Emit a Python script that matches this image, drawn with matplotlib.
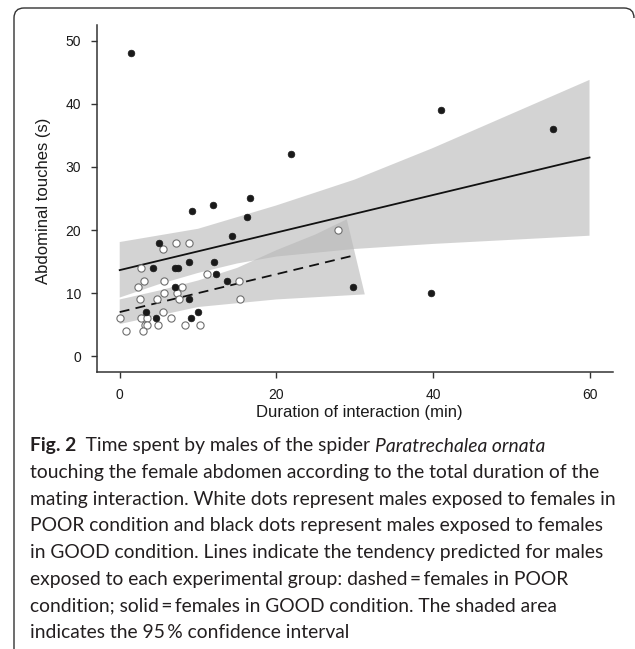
import matplotlib
matplotlib.use("Agg")
import matplotlib.pyplot as plt
from matplotlib.path import Path
from matplotlib.patches import PathPatch
import numpy as np

# ---------------- data ----------------
good_x = [1.4, 21.9, 9.2, 11.9, 16.6, 16.2, 14.3, 5.0, 4.3, 7.0, 7.4, 8.9, 12.0,
          12.3, 13.7, 7.1, 8.9, 3.4, 4.6, 9.1, 10.0, 41.0, 55.3, 29.8, 39.7]
good_y = [48, 32, 23, 24, 25, 22, 19, 18, 14, 14, 14, 15, 15,
          13, 12, 11, 9, 7, 6, 6, 7, 39, 36, 11, 10]

poor_x = [7.2, 8.9, 5.5, 2.7, 3.1, 5.7, 2.4, 8.0, 11.2, 15.2, 5.7, 7.3, 2.6, 4.8,
          7.6, 15.3, 5.5, 0.0, 2.7, 3.5, 6.5, 3.2, 3.5, 4.9, 8.3, 10.2, 0.8, 3.0, 27.9]
poor_y = [18, 18, 17, 14, 12, 12, 11, 11, 13, 12, 10, 10, 9, 9,
          9, 9, 7, 6, 6, 6, 6, 5, 5, 5, 5, 5, 4, 4, 20]

good_fit_x = [0, 60]
good_fit_y = [13.65, 31.5]
poor_fit_x = [0, 30]
poor_fit_y = [7.0, 16.0]

good_upper_x = [0, 10, 20, 30, 40, 60]
good_upper_y = [18.1, 20.2, 23.9, 28.0, 33.0, 43.8]
good_lower_x = [0, 5, 10, 15, 20, 30, 40, 60]
good_lower_y = [9.3, 11.4, 13.2, 14.7, 15.8, 17.0, 17.8, 19.1]

poor_upper_x = [0, 5, 10, 15, 20, 25, 29]
poor_upper_y = [9.0, 10.4, 12.0, 14.0, 16.8, 19.3, 21.7]
poor_lower_x = [0, 10, 20, 31.3]
poor_lower_y = [5.1, 7.8, 9.0, 9.8]

x_ticks = [0, 20, 40, 60]
y_ticks = [0, 10, 20, 30, 40, 50]
x_label = "Duration of interaction (min)"
y_label = "Abdominal touches (s)"

caption_lines = [
    None,  # first line built from runs
    "touching the female abdomen according to the total duration of the",
    "mating interaction. White dots represent males exposed to females in",
    "POOR condition and black dots represent males exposed to females",
    "in GOOD condition. Lines indicate the tendency predicted for males",
    "exposed to each experimental group: dashed\u2009=\u2009females in POOR",
    "condition; solid\u2009=\u2009females in GOOD condition. The shaded area",
    "indicates the 95\u2009% confidence interval",
]
caption_first = [("Fig. 2", "bold", "normal"),
                 ("\u2002Time spent by males of the spider ", "normal", "normal"),
                 ("Paratrechalea ornata", "normal", "italic")]

# ---------------- figure ----------------
W, H = 635, 649
fig = plt.figure(figsize=(W / 100, H / 100), dpi=100)
plt.rcParams['font.family'] = ['Liberation Sans', 'DejaVu Sans']

def fx(px):
    return px / W

def fy(py):
    return 1 - py / H

ax = fig.add_axes([fx(97), fy(372), (613 - 97) / W, (372 - 25) / H])

band_color = '#b7b7b7'
ax.fill(list(good_upper_x) + list(good_lower_x[::-1]),
        list(good_upper_y) + list(good_lower_y[::-1]),
        color=band_color, alpha=0.6, lw=0, zorder=1)
ax.fill(list(poor_upper_x) + list(poor_lower_x[::-1]),
        list(poor_upper_y) + list(poor_lower_y[::-1]),
        color=band_color, alpha=0.6, lw=0, zorder=1)

ax.plot(good_fit_x, good_fit_y, color='#111111', lw=1.3, zorder=2)
ax.plot(poor_fit_x, poor_fit_y, color='#111111', lw=1.3, ls=(0, (5.5, 3.5)), zorder=2)

ax.plot(poor_x, poor_y, 'o', ms=5.2, mfc='white', mec='#6e6e6e', mew=0.8,
        ls='none', zorder=3)
ax.plot(good_x, good_y, 'o', ms=4.8, mfc='#1a1a1a', mec='#1a1a1a', mew=0.5,
        ls='none', zorder=4)

ax.set_xlim(-2.9, 63)
ax.set_ylim(-2.5, 52.5)
ax.set_xticks(x_ticks)
ax.set_yticks(y_ticks)
for s in ['top', 'right']:
    ax.spines[s].set_visible(False)
for s in ['left', 'bottom']:
    ax.spines[s].set_color('#333333')
    ax.spines[s].set_linewidth(1.1)
ax.tick_params(axis='both', colors='#333333', length=4, width=1.0,
               labelsize=10, pad=7.5, labelcolor='#1a1a1a')
ax.set_facecolor('none')

fig.text(fx(44), fy(201), y_label, rotation=90, ha='center', va='center',
         fontsize=12, color='#1a1a1a')
fig.text(fx(359), fy(413), x_label, ha='center', va='center',
         fontsize=12, color='#1a1a1a')

# ---------------- caption ----------------
cap_font = ['Lato', 'DejaVu Sans']
renderer = fig.canvas.get_renderer()
probe = fig.text(0, 0, caption_lines[2], fontsize=12, family=cap_font)
pw = probe.get_window_extent(renderer).width
probe.remove()
cap_size = 12 * (616 - 30) / pw
line_y0 = 446
line_dy = 26.6
x = fx(30)
for txt, wt, st in caption_first:
    t = fig.text(x, fy(line_y0), txt, ha='left', va='center', fontsize=cap_size,
                 family=cap_font, weight=wt, style=st, color='#231f20')
    bb = t.get_window_extent(renderer)
    x += bb.width / W
for i, line in enumerate(caption_lines):
    if line is None:
        continue
    fig.text(fx(30), fy(line_y0 + i * line_dy), line, ha='left', va='center',
             fontsize=cap_size, family=cap_font, color='#231f20')

# ---------------- frame ----------------
r = 10
pts = [(14, H + 2), (14, 8 + r), (14, 8), (14 + r, 8), (634 - r, 8), (634, 8), (634, 8 + r)]
codes = [Path.MOVETO, Path.LINETO, Path.CURVE3, Path.CURVE3, Path.LINETO, Path.CURVE3, Path.CURVE3]
verts = [(fx(a), fy(b)) for a, b in pts]
frame = PathPatch(Path(verts, codes), transform=fig.transFigure, fill=False,
                  edgecolor='#333333', lw=1.0)
fig.patches.append(frame)

fig.savefig("out.png", dpi=100)
